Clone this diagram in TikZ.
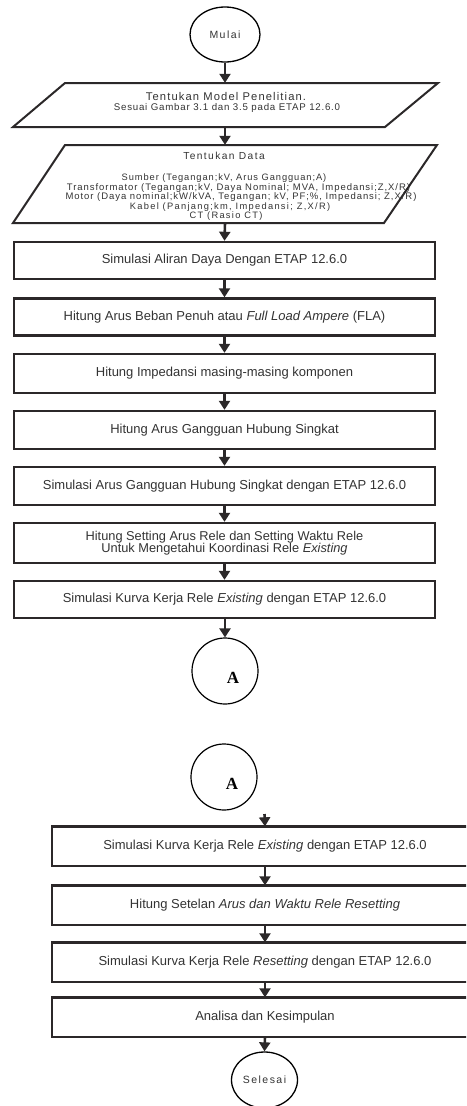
\documentclass[tikz,border=0pt]{standalone}
\usepackage{fontspec}
\setmainfont{Liberation Sans}
\newfontfamily\serifA{Liberation Serif}
\newfontfamily\spaced[LetterSpace=10]{Liberation Sans}
\newfontfamily\spacedlight[LetterSpace=8]{Liberation Sans}
\newfontfamily\spacedwide[LetterSpace=14]{Liberation Sans}
\usetikzlibrary{arrows.meta,shapes.geometric}
\definecolor{ink}{HTML}{2B2829}
\definecolor{txtc}{HTML}{333333}
\begin{document}
\begin{tikzpicture}[x=1pt,y=-1pt,
  box/.style={draw=ink, line width=2.4pt, minimum width=421pt, minimum height=37pt, inner sep=0pt, text=txtc, align=center, font=\fontsize{13}{12.5}\selectfont},
  boxb/.style={box, draw=none, minimum width=424pt},
  frame/.style={draw=ink, line width=2.4pt},
  para/.style={draw=ink, line width=2pt, line join=miter},
  anchorbox/.style={draw=none, inner sep=0pt},
  conn/.style={draw=ink, line width=2.6pt, -{Triangle[width=11pt,length=9pt]}},
  term/.style={ellipse, draw=black, line width=1.3pt, minimum width=70pt, minimum height=55pt, inner sep=0pt, text=txtc, font=\spacedwide\fontsize{10.5}{12}\selectfont},
  conncirc/.style={circle, draw=black, line width=1.2pt, minimum size=66pt, inner sep=0pt},
  lbl/.style={inner sep=0pt, anchor=base, text=txtc},
]
\useasboundingbox (0,0) rectangle (466,1106);
\clip (0,0) rectangle (466,1106);

% start
\node[term] (mulai) at (225,34.5) {Mulai};

% parallelogram 1
\node[anchorbox, minimum width=425pt, minimum height=44pt] (p1) at (225,105) {};
\draw[para] (65,83) -- (438,83) -- (385,127) -- (13,127) -- cycle;
\node[lbl, font=\spaced\fontsize{11.2}{12}\selectfont] (p1a) at (226,100.7) {Tentukan Model Penelitian.};
\node[lbl, font=\spacedlight\fontsize{9.7}{12}\selectfont] (p1b) at (227,110) {Sesuai Gambar 3.1 dan 3.5 pada ETAP 12.6.0};

% parallelogram 2
\node[anchorbox, minimum width=424pt, minimum height=78pt] (p2) at (225,184) {};
\draw[para] (65,145) -- (437,145) -- (384,223) -- (13,223) -- cycle;
\node[lbl, font=\spacedwide\fontsize{10.2}{12}\selectfont] (p2a) at (224,159) {Tentukan Data};
\node[lbl, font=\spaced\fontsize{9.3}{12}\selectfont] (p2b) at (224,180) {Sumber (Tegangan;kV, Arus Gangguan;A)};
\node[lbl, font=\spaced\fontsize{9.5}{12}\selectfont] (p2c) at (238.5,190) {Transformator (Tegangan;kV, Daya Nominal; MVA, Impedansi;Z,X/R)};
\node[lbl, font=\spaced\fontsize{9.5}{12}\selectfont] (p2d) at (241,199.3) {Motor (Daya nominal;kW/kVA, Tegangan; kV, PF;\%, Impedansi; Z,X/R)};
\node[lbl, font=\spacedwide\fontsize{9.3}{12}\selectfont] (p2e) at (230,209) {Kabel (Panjang;km, Impedansi; Z,X/R)};
\node[lbl, font=\spacedwide\fontsize{9.3}{12}\selectfont] (p2f) at (226,218) {CT (Rasio CT)};

% boxes part 1
\node[box] (r1) at (224.5,260.5) {Simulasi Aliran Daya Dengan ETAP 12.6.0};
\node[box] (r2) at (224.5,317) {Hitung Arus Beban Penuh atau \textit{Full Load Ampere} (FLA)};
\node[box, minimum height=39pt] (r3) at (224.5,373.5) {Hitung Impedansi masing-masing komponen};
\node[box, minimum height=38pt] (r4) at (224.5,430) {Hitung Arus Gangguan Hubung Singkat};
\node[box, minimum height=38pt] (r5) at (224.5,486) {Simulasi Arus Gangguan Hubung Singkat dengan ETAP 12.6.0};
\node[box, minimum height=40pt, font=\fontsize{12.8}{12.3}\selectfont] (r6) at (224.5,543) {Hitung Setting Arus Rele dan Setting Waktu Rele\\Untuk Mengetahui Koordinasi Rele \textit{Existing}};
\node[box] (r7) at (224.5,599.5) {Simulasi Kurva Kerja Rele \textit{Existing} dengan ETAP 12.6.0};

% connector A
\node[conncirc] (A1) at (225,671) {};
\node[inner sep=0pt, font=\serifA\bfseries\fontsize{17}{17}\selectfont, text=black] (A1t) at ([shift={(8,7)}]A1.center) {A};
\node[conncirc] (A2) at (224,777) {};
\node[inner sep=0pt, font=\serifA\bfseries\fontsize{17}{17}\selectfont, text=black] (A2t) at ([shift={(8,7)}]A2.center) {A};

% boxes part 2 (frames run past the right edge of the picture)
\node[boxb] (r8) at (265,846) {Simulasi Kurva Kerja Rele \textit{Existing} dengan ETAP 12.6.0};
\node[boxb] (r9) at (265,905) {Hitung Setelan \textit{Arus dan Waktu Rele Resetting}};
\node[boxb] (r10) at (265,962) {Simulasi Kurva Kerja Rele \textit{Resetting} dengan ETAP 12.6.0};
\node[boxb] (r11) at (265,1017) {Analisa dan Kesimpulan};
\foreach \r in {r8,r9,r10,r11}
  \draw[frame] (\r.north west) rectangle ([xshift=30pt]\r.south east);

\node[term, minimum width=66pt, minimum height=56pt] (selesai) at (264.5,1080) {Selesai};

\coordinate (a2out) at (264.5,814);

% connectors
\draw[conn] (mulai.south) -- (p1.north);
\draw[conn] (p1.south) -- (p2.north);
\draw[conn] (p2.south) -- (r1.north);
\draw[conn] (r1) -- (r2);
\draw[conn] (r2) -- (r3);
\draw[conn] (r3) -- (r4);
\draw[conn] (r4) -- (r5);
\draw[conn] (r5) -- (r6);
\draw[conn] (r6) -- (r7);
\draw[conn] (r7.south -| A1.north) -- (A1.north);
\draw[conn] (a2out) -- (r8.north);
\draw[conn] (r8) -- (r9);
\draw[conn] (r9) -- (r10);
\draw[conn] (r10) -- (r11);
\draw[conn] (r11.south) -- (selesai.north);
\end{tikzpicture}
\end{document}
